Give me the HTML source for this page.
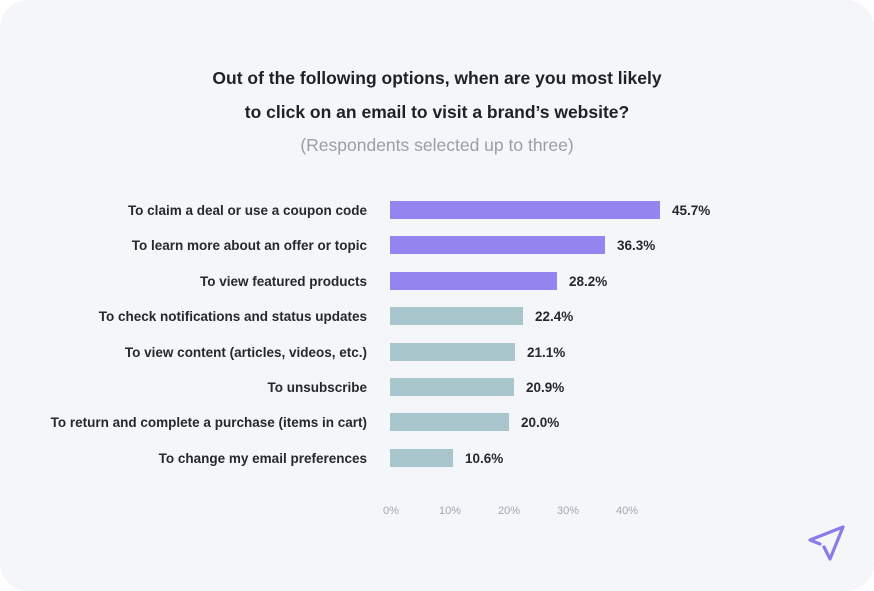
<!DOCTYPE html>
<html><head><style>
html,body{margin:0;padding:0;background:#fff;}
.card{position:absolute;left:0;top:0;width:874px;height:591px;background:#f4f6f9;border-radius:28px;font-family:"Liberation Sans",sans-serif;}
.t{position:absolute;left:0;width:874px;text-align:center;color:#1f2126;}
.lab{position:absolute;right:507px;font-size:13.5px;font-weight:bold;color:#26282d;white-space:nowrap;}
.bar{position:absolute;left:390px;height:18px;}
.val{position:absolute;font-size:13.5px;font-weight:bold;color:#26282d;}
.tick{position:absolute;top:505px;font-size:11px;color:#a3a7ad;transform:translateX(-50%);}
</style></head><body>
<div class="card">
<div class="t" style="top:68px;font-size:17.5px;font-weight:bold;">Out of the following options, when are you most likely</div>
<div class="t" style="top:102px;font-size:17.5px;font-weight:bold;">to click on an email to visit a brand’s website?</div>
<div class="t" style="top:135px;font-size:17.5px;color:#9a9ea5;">(Respondents selected up to three)</div>

<div class="lab" style="top:203px">To claim a deal or use a coupon code</div>
<div class="bar" style="top:201px;width:270px;background:#9285f0"></div>
<div class="val" style="top:203px;left:672px">45.7%</div>

<div class="lab" style="top:238px">To learn more about an offer or topic</div>
<div class="bar" style="top:236px;width:215px;background:#9285f0"></div>
<div class="val" style="top:238px;left:617px">36.3%</div>

<div class="lab" style="top:274px">To view featured products</div>
<div class="bar" style="top:272px;width:167px;background:#9285f0"></div>
<div class="val" style="top:274px;left:569px">28.2%</div>

<div class="lab" style="top:309px">To check notifications and status updates</div>
<div class="bar" style="top:307px;width:133px;background:#a9c6cc"></div>
<div class="val" style="top:309px;left:535px">22.4%</div>

<div class="lab" style="top:345px">To view content (articles, videos, etc.)</div>
<div class="bar" style="top:343px;width:125px;background:#a9c6cc"></div>
<div class="val" style="top:345px;left:527px">21.1%</div>

<div class="lab" style="top:380px">To unsubscribe</div>
<div class="bar" style="top:378px;width:124px;background:#a9c6cc"></div>
<div class="val" style="top:380px;left:526px">20.9%</div>

<div class="lab" style="top:415px">To return and complete a purchase (items in cart)</div>
<div class="bar" style="top:413px;width:119px;background:#a9c6cc"></div>
<div class="val" style="top:415px;left:521px">20.0%</div>

<div class="lab" style="top:451px">To change my email preferences</div>
<div class="bar" style="top:449px;width:63px;background:#a9c6cc"></div>
<div class="val" style="top:451px;left:465px">10.6%</div>

<div class="tick" style="left:391px">0%</div>
<div class="tick" style="left:450px">10%</div>
<div class="tick" style="left:509px">20%</div>
<div class="tick" style="left:568px">30%</div>
<div class="tick" style="left:627px">40%</div>

<svg style="position:absolute;left:805px;top:522px" width="42" height="42" viewBox="0 0 42 42">
<path d="M38 5 L5 18 L15 22 M38 5 L25 37 L19 25" fill="none" stroke="#8b7bea" stroke-width="3.2" stroke-linecap="round" stroke-linejoin="round"/>
</svg>
</div>
</body></html>
